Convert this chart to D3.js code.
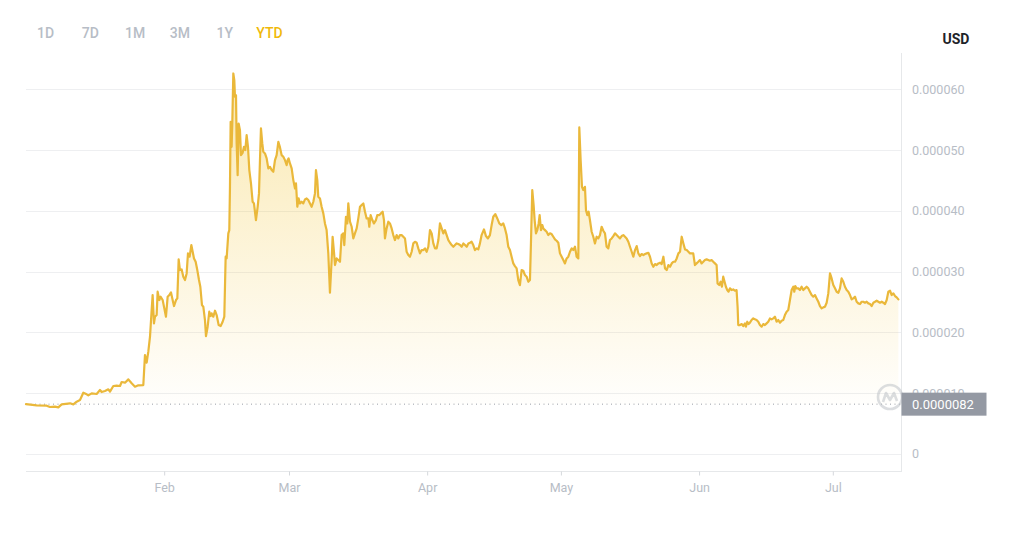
<!DOCTYPE html>
<html>
<head>
<meta charset="utf-8">
<script src="https://cdn.jsdelivr.net/npm/d3@7"></script>
<style>
  html, body { margin: 0; padding: 0; background: #ffffff; }
  svg { display: block; }
  text { font-family: Roboto, "Open Sans", "DejaVu Sans", sans-serif; }
</style>
</head>
<body>
<svg id="chart" width="1020" height="540"></svg>
<script>
// ---------- data (YTD 2023, price in micro-USD, time as days since 1 Jan 2023 UTC) ----------
const ranges = ["1D", "7D", "1M", "3M", "1Y", "YTD"];
const activeRange = "YTD";
const currency = "USD";
const priceUnit = 1e-6;
const yearStart = "2023-01-01";
const yTickValues = [0, 10, 20, 30, 40, 50, 60];
const monthTicks = ["2023-02-01", "2023-03-01", "2023-04-01", "2023-05-01", "2023-06-01", "2023-07-01"];
const days = [
  0, 2.39, 4.64, 5.38, 6.5, 7.25, 8.0, 9.87, 10.62, 11.37, 12.11, 12.86, 13.61, 13.98, 14.73, 15.85, 16.6, 16.97, 17.72, 18.47,
  18.84, 19.59, 20.34, 21.09, 21.46, 22.21, 22.96, 23.7, 24.45, 25.2, 26.32, 26.69, 27.07, 27.44, 27.82, 28.19, 28.41, 28.71, 28.94, 29.31,
  29.53, 29.91, 30.21, 30.66, 31.03, 31.4, 31.78, 32.15, 32.53, 32.9, 33.2, 33.65, 33.95, 34.25, 34.54, 34.92, 35.29, 35.67, 36.04, 36.34,
  36.71, 37.09, 37.39, 37.69, 38.06, 38.43, 38.81, 39.11, 39.48, 39.78, 40.15, 40.38, 40.75, 41.12, 41.42, 41.65, 42.02, 42.4, 42.77, 43.22,
  43.67, 44.12, 44.49, 44.79, 45.01, 45.39, 45.61, 45.76, 45.91, 46.13, 46.28, 46.51, 46.73, 46.88, 47.11, 47.26, 47.48, 47.7, 48.0, 48.23,
  48.6, 48.9, 49.2, 49.5, 49.8, 50.1,
  50.47, 50.84, 51.14, 51.59, 51.97, 52.27, 52.49, 52.71, 53.01, 53.24, 53.61, 53.99, 54.36, 54.73, 55.11, 55.48, 55.86, 56.23, 56.61, 56.98,
  57.35, 57.73, 58.1, 58.48, 58.7, 58.92, 59.22, 59.6, 59.97, 60.35, 60.57, 60.87, 61.17, 61.46, 61.84, 62.21, 62.59, 62.96, 63.33, 63.71,
  64.08, 64.46, 64.83, 65.05, 65.35, 65.57, 65.95, 66.32, 66.7, 67.07, 67.44, 67.82, 68.19, 68.57, 68.79, 69.09, 69.32, 69.69, 70.06, 70.44,
  70.81, 71.19, 71.41, 71.78, 72.08, 72.31, 72.68, 73.06, 73.43, 73.8, 74.18, 74.55, 74.93, 75.3, 75.68, 76.05, 76.42, 76.8, 77.02, 77.32,
  77.7, 78.06, 78.51, 78.81, 79.26, 79.63, 80.01, 80.31, 80.53, 80.9, 81.28, 81.65, 82.03, 82.4, 82.77, 83.15, 83.52, 83.9, 84.27, 84.65,
  85.02, 85.39, 85.77, 86.14, 86.52, 86.89, 87.27, 87.64, 88.01, 88.39, 88.76, 89.14, 89.51, 89.89, 90.26, 90.63, 91.01, 91.38, 91.76, 92.13,
  92.51, 92.87, 93.25, 93.62, 94.0, 94.37, 94.75, 95.12, 95.5, 95.87, 96.24, 96.62, 96.99, 97.37, 97.74, 98.12, 98.49, 98.87, 99.24, 99.61,
  99.97, 100.34, 100.72, 101.09, 101.47, 101.84, 102.21, 102.74, 103.19, 103.63, 104.08, 104.46, 104.83, 105.28, 105.73, 106.18, 106.63, 107.07, 107.45, 107.82,
  108.2, 108.57, 108.94, 109.32, 109.69, 110.07, 110.44, 110.81, 111.19, 111.56, 111.94, 112.31, 112.69, 113.06, 113.28, 113.58, 113.88, 114.11, 114.41, 114.71,
  115.01, 115.23, 115.53, 115.83, 116.05, 116.43, 116.8, 117.17, 117.55, 117.92, 118.3, 118.67, 119.04, 119.42, 119.79, 120.17, 120.54, 120.91, 121.29, 121.66,
  122.04, 122.41, 122.79, 123.16, 123.53, 123.91, 124.13, 124.43, 124.73, 125.03, 125.4, 125.63, 125.92, 126.22, 126.52, 126.9, 127.27, 127.64, 128.02, 128.39,
  128.77, 129.14, 129.52, 129.89, 130.26, 130.64, 131.01, 131.39, 131.76, 132.14, 132.51, 132.88, 133.26, 133.63, 134.01, 134.38, 134.75, 135.13, 135.5, 135.88,
  136.25, 136.63, 137.0, 137.37, 137.75, 138.12, 138.5, 138.87, 139.25, 139.62, 139.99, 140.37, 140.74, 141.12, 141.49, 141.87, 142.24, 142.61, 142.99, 143.36,
  143.74, 144.11, 144.49, 144.86, 145.23, 145.61, 145.98, 146.36, 146.73, 147.1, 147.48, 147.85, 148.23, 148.6, 148.97,
  149.32, 149.69, 150.07, 150.44, 150.82, 151.19, 151.56, 151.94, 152.31, 152.69, 153.06, 153.43, 153.81, 154.18, 154.56, 154.93, 155.15, 155.53, 155.83, 156.13,
  156.42, 156.72, 157.02, 157.32, 157.62, 157.92, 158.29, 158.67, 159.04, 159.41, 159.64, 159.79, 160.16, 160.54, 160.91, 161.29, 161.51, 161.81, 162.11, 162.41,
  162.78, 163.16, 163.53, 163.9, 164.28, 164.65, 165.03, 165.4, 165.77, 166.15, 166.52, 166.9, 167.27, 167.65, 168.02, 168.39, 168.77, 169.14, 169.52, 169.89,
  170.26, 170.64, 171.01, 171.39, 171.76, 172.14, 172.36, 172.58, 172.88, 173.26, 173.63, 174.0, 174.38, 174.75, 175.13, 175.5, 175.87, 176.25, 176.62, 177.0,
  177.37, 177.75, 178.12, 178.49, 178.87, 179.24, 179.62, 179.99, 180.37, 180.74, 181.11, 181.49, 181.86, 182.24, 182.61, 182.98, 183.36, 183.73, 184.11, 184.48,
  184.86, 185.23, 185.6, 185.98, 186.35, 186.73, 187.1, 187.48, 187.85, 188.22, 188.6, 188.97, 189.35, 189.72, 190.1, 190.47, 190.84, 191.22, 191.59, 191.97,
  192.34, 192.71, 193.09, 193.46, 193.84, 194.21, 194.59, 194.96, 195.33, 195.71
];
const prices = [
  8.2, 8.01, 7.95, 7.73, 7.79, 7.68, 8.17, 8.34, 8.17, 8.61, 8.88, 10.09, 9.82, 9.65, 9.98, 9.87, 10.53, 10.2, 10.37, 10.64,
  10.26, 11.19, 11.24, 11.19, 11.85, 11.74, 12.28, 11.63, 11.08, 11.3, 11.35, 16.29, 15.03, 16.84, 19.3, 23.69, 26.16, 21.5, 22.6, 22.87,
  26.71, 25.34, 25.89, 25.34, 23.97, 22.6, 25.89, 26.16, 26.6, 25.34, 24.35, 25.34, 25.61, 32.03, 30.27, 30.38, 29.18, 28.63, 29.72, 33.02,
  32.47, 34.39, 33.29, 32.19, 31.64, 30.27, 28.63, 27.53, 24.51, 24.24, 22.05, 19.41, 20.95, 23.42, 22.7, 23.14, 22.6, 23.58, 22.87, 21.22,
  21.06, 21.77, 22.6, 32.47, 32.19, 36.31, 36.85, 43.98, 54.68, 50.56, 54.4, 62.63, 61.53, 58.79, 59.07, 51.11, 45.9, 54.4, 53.31, 49.19,
  49.58, 50.56, 50.02, 52.48, 50.56, 46.73,
  44.53, 41.52, 41.24, 38.5, 40.69, 42.89, 48.37, 53.58, 51.11, 49.74, 49.47, 48.65, 47.0, 47.27, 46.73, 46.45, 48.37, 49.19, 51.39, 50.46,
  49.19, 48.92, 48.37, 47.55, 48.37, 48.65, 47.82, 47.0, 45.08, 43.71, 44.53, 40.69, 42.06, 41.24, 41.52, 41.24, 41.9, 42.06, 41.79, 41.24,
  40.69, 41.52, 42.89, 46.73, 45.08, 42.34, 42.06, 40.69, 39.6, 37.95, 36.85, 33.02, 26.54, 31.92, 35.76, 33.29, 31.1, 32.19, 31.92, 31.64,
  36.03, 36.31, 34.39, 39.05, 37.95, 41.24, 38.23, 37.4, 35.48, 36.31, 37.13, 38.77, 40.69, 40.97, 41.24, 39.87, 38.77, 38.77, 37.4, 39.32,
  38.5, 37.95, 38.5, 39.32, 39.32, 39.6, 39.87, 38.5, 35.48, 37.13, 38.23, 37.95, 37.13, 36.03, 35.21, 36.03, 35.48, 36.03, 36.03, 35.76,
  35.48, 33.29, 32.74, 32.47, 33.29, 34.66, 34.93, 34.77, 33.84, 33.02, 33.56, 33.56, 33.84, 33.29, 34.11, 36.85, 36.31, 34.66, 33.84, 33.84,
  35.21, 37.95, 37.13, 36.31, 36.85, 36.03, 35.21, 34.77, 34.39, 34.11, 34.39, 34.66, 34.55, 34.39, 34.11, 34.66, 34.39, 34.11, 34.66, 34.77,
  34.93, 34.39, 33.56, 33.84, 33.67, 34.66, 36.03, 36.96, 35.87, 35.48, 36.03, 37.68, 39.05, 39.49, 38.77, 37.95, 37.68, 37.95, 37.13, 36.03,
  34.11, 33.56, 32.47, 31.37, 30.93, 30.55, 28.63, 27.8, 30.27, 30.16, 29.45, 29.18, 28.35, 28.63, 34.66, 43.44, 40.97, 38.5, 36.31, 36.85,
  37.95, 39.32, 36.85, 37.68, 37.13, 36.85, 36.58, 36.03, 36.31, 36.2, 35.76, 35.32, 35.1, 34.77, 33.02, 32.47, 31.92, 31.37, 32.19, 32.47,
  33.29, 33.84, 33.56, 34.11, 32.47, 32.19, 53.75, 48.37, 43.98, 43.44, 43.98, 40.14, 39.32, 39.87, 38.5, 36.58, 35.76, 34.66, 35.76, 35.48,
  36.03, 37.4, 36.74, 36.31, 34.11, 33.84, 35.21, 35.48, 35.87, 36.31, 36.03, 35.76, 35.48, 35.87, 36.03, 35.76, 35.48, 34.93, 34.11, 33.29,
  32.47, 33.56, 34.22, 33.02, 32.58, 32.91, 32.74, 32.91, 33.02, 33.12, 32.47, 31.37, 30.82, 31.26, 31.1, 31.37, 31.48, 31.26, 32.47, 30.55,
  30.27, 31.1, 30.82, 31.37, 31.64, 31.64, 32.19, 33.02, 33.29, 35.76, 34.66, 33.67, 33.56, 33.29, 33.02,
  33.02, 33.02, 31.1, 31.37, 31.64, 31.92, 31.37, 31.64, 31.92, 32.03, 31.92, 31.81, 31.92, 31.64, 31.37, 31.1, 28.08, 27.8, 28.35, 27.53,
  29.18, 28.35, 27.53, 26.98, 26.71, 27.26, 26.98, 27.09, 26.87, 26.98, 24.24, 21.22, 21.22, 21.39, 21.06, 21.5, 20.95, 21.77, 21.39, 21.61,
  22.05, 22.32, 22.16, 22.05, 21.77, 21.22, 20.95, 21.39, 21.22, 21.5, 21.77, 22.32, 22.16, 22.32, 22.6, 21.77, 22.05, 21.61, 21.94, 22.05,
  22.87, 23.42, 23.69, 25.34, 26.98, 27.53, 26.71, 27.64, 27.26, 27.26, 26.98, 27.53, 26.98, 27.26, 27.53, 27.26, 26.71, 26.16, 25.89, 26.16,
  25.61, 25.06, 24.35, 23.97, 24.13, 24.24, 24.9, 26.43, 29.72, 28.9, 27.8, 27.26, 26.71, 26.54, 27.26, 28.9, 28.35, 27.53, 26.98, 26.71,
  26.16, 25.45, 25.61, 25.89, 25.06, 24.79, 24.68, 25.06, 25.06, 24.9, 25.06, 24.79, 24.68, 24.35, 24.9, 25.06, 25.23, 25.06, 24.9, 25.06,
  24.9, 24.68, 25.34, 26.71, 26.87, 26.16, 26.43, 26.0, 25.78, 25.45
];

// ---------- build ----------
const t0 = Date.parse(yearStart + "T00:00:00Z");
const DAY = 864e5;
const data = days.map((d, i) => ({ t: new Date(t0 + d * DAY), v: prices[i] * priceUnit }));
const basePrice = prices[0] * priceUnit;

const svg = d3.select("#chart");
const W = 1020, H = 540;
const plot = { left: 26, right: 901, top: 53, bottom: 471 };

svg.append("rect").attr("width", W).attr("height", H).attr("fill", "#ffffff");

const x = d3.scaleUtc()
  .domain([new Date(t0), new Date(t0 + 196.3 * DAY)])
  .range([plot.left, plot.right]);
const y = d3.scaleLinear()
  .domain([-2.8 * priceUnit, 66 * priceUnit])
  .range([plot.bottom, plot.top]);

// range buttons
const btnX = d3.scalePoint().domain(ranges).range([45.5, 269.5]);
svg.append("g").selectAll("text").data(ranges).join("text")
  .attr("x", d => btnX(d)).attr("y", 38)
  .attr("text-anchor", "middle")
  .attr("font-size", 14).attr("font-weight", 500)
  .attr("fill", d => d === activeRange ? "#F0B90B" : "#B7BDC6")
  .text(d => d);

// currency label
svg.append("text")
  .attr("x", 956).attr("y", 44).attr("text-anchor", "middle")
  .attr("font-size", 14).attr("font-weight", 700).attr("fill", "#1E2329")
  .text(currency);

// horizontal grid
const yTicks = yTickValues.map(v => v * priceUnit);
svg.append("g").selectAll("line").data(yTicks).join("line")
  .attr("x1", plot.left).attr("x2", plot.right)
  .attr("y1", d => Math.round(y(d)) + 0.5).attr("y2", d => Math.round(y(d)) + 0.5)
  .attr("stroke", "#EEEFF1").attr("stroke-width", 1);

// frame: right border + bottom axis line
svg.append("line")
  .attr("x1", plot.right + 0.5).attr("x2", plot.right + 0.5)
  .attr("y1", plot.top).attr("y2", plot.bottom)
  .attr("stroke", "#E6E8EA");
svg.append("line")
  .attr("x1", plot.left).attr("x2", plot.right + 1)
  .attr("y1", plot.bottom + 0.5).attr("y2", plot.bottom + 0.5)
  .attr("stroke", "#E6E8EA");

// x axis
const monthDates = monthTicks.map(s => new Date(s + "T00:00:00Z"));
const xAxis = d3.axisBottom(x).tickValues(monthDates).tickFormat(d3.utcFormat("%b")).tickSize(4).tickPadding(8);
const gx = svg.append("g").attr("transform", `translate(0,${plot.bottom + 0.5})`).call(xAxis);
gx.select(".domain").remove();
gx.selectAll(".tick line").attr("stroke", "#D5D8DC");
gx.selectAll(".tick text").attr("fill", "#B7BDC6").attr("font-size", 12.5)
  .attr("font-family", "Roboto, 'Open Sans', sans-serif");

// gradient fill
const defs = svg.append("defs");
const grad = defs.append("linearGradient").attr("id", "fillGrad")
  .attr("gradientUnits", "userSpaceOnUse")
  .attr("x1", 0).attr("x2", 0)
  .attr("y1", y(d3.max(data, d => d.v))).attr("y2", y(basePrice));
grad.append("stop").attr("offset", 0).attr("stop-color", "#F0B90B").attr("stop-opacity", 0.32);
grad.append("stop").attr("offset", 1).attr("stop-color", "#F0B90B").attr("stop-opacity", 0.01);

const area = d3.area()
  .x(d => x(d.t)).y0(y(basePrice)).y1(d => y(d.v));
svg.append("path").datum(data).attr("d", area).attr("fill", "url(#fillGrad)");

// baseline (start price) dotted line
svg.append("line")
  .attr("x1", plot.left).attr("x2", plot.right)
  .attr("y1", y(basePrice)).attr("y2", y(basePrice))
  .attr("stroke", "#9A9FA8").attr("stroke-width", 1).attr("stroke-dasharray", "1,3.5");

// price line
const line = d3.line().x(d => x(d.t)).y(d => y(d.v));
svg.append("path").datum(data).attr("d", line)
  .attr("fill", "none").attr("stroke", "#EAB83A").attr("stroke-width", 2.2)
  .attr("stroke-linejoin", "round").attr("stroke-linecap", "round");

// y tick labels (right)
const fmt = d3.format(".6f");
svg.append("g").selectAll("text").data(yTicks).join("text")
  .attr("x", 912).attr("y", d => y(d)).attr("dy", "0.35em")
  .attr("font-size", 12.5).attr("fill", "#B7BDC6")
  .text(d => d === 0 ? "0" : fmt(d));

// watermark logo
const wm = svg.append("g").attr("transform", `translate(890,397)`).attr("opacity", 0.55);
wm.append("circle").attr("r", 12).attr("fill", "none").attr("stroke", "#BFC3C8").attr("stroke-width", 2.6);
wm.append("path").attr("d", "M-7,5 L-4,-4 L0,3 L4,-4 L7,4")
  .attr("fill", "none").attr("stroke", "#BFC3C8").attr("stroke-width", 2.6).attr("stroke-linejoin", "round");

// current/start price tag
const tagY = y(basePrice);
svg.append("rect").attr("x", plot.right + 0.5).attr("y", tagY - 11.5).attr("width", 85).attr("height", 23)
  .attr("fill", "#9499A3");
svg.append("text").attr("x", 912).attr("y", tagY).attr("dy", "0.36em")
  .attr("font-size", 13).attr("fill", "#ffffff")
  .text(d3.format(".7f")(basePrice));
</script>
</body>
</html>
